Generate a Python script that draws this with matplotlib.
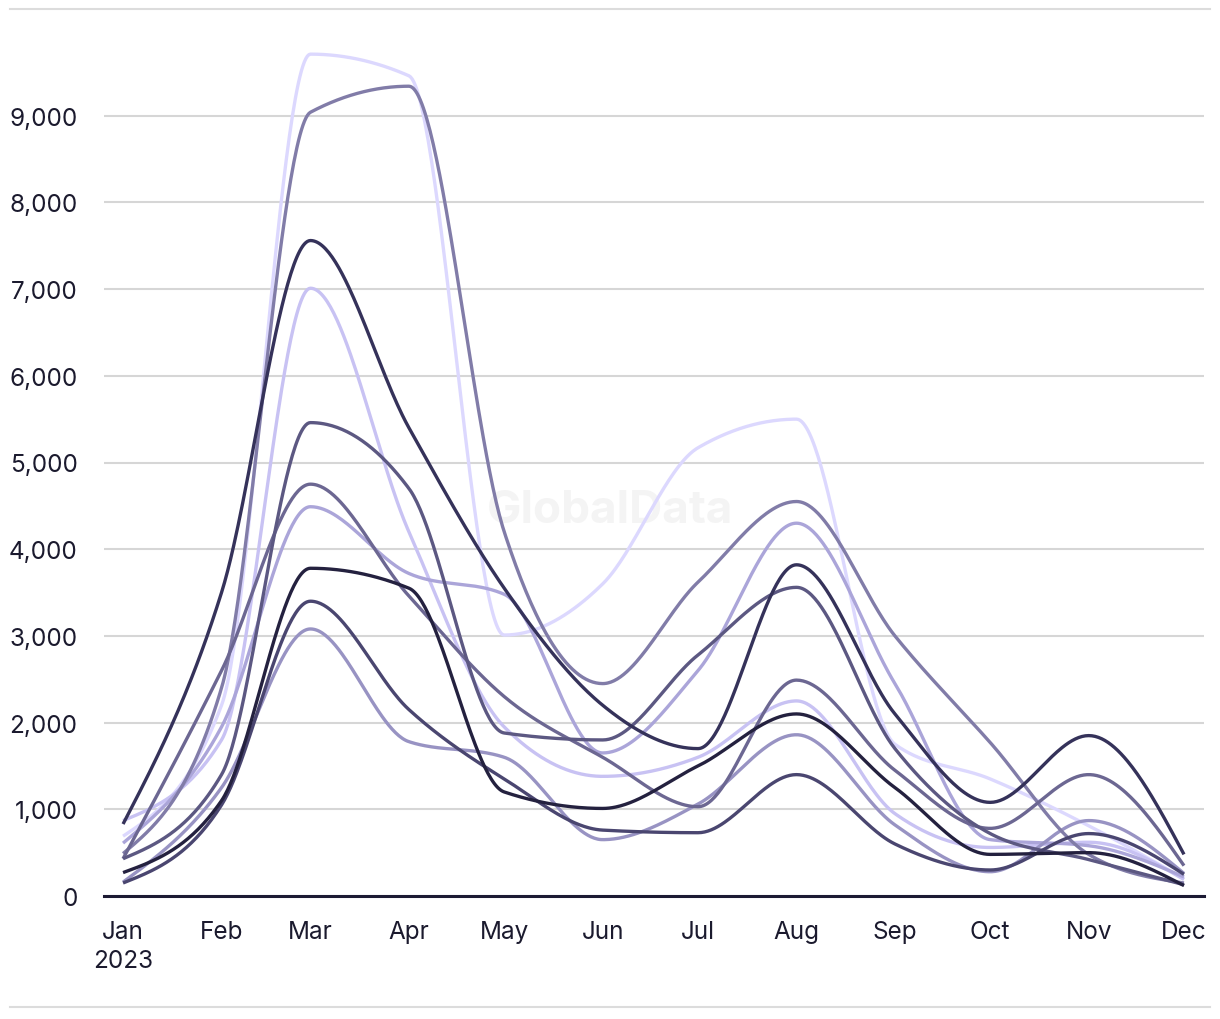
import numpy as np
import matplotlib
matplotlib.use('Agg')
import matplotlib.pyplot as plt
import matplotlib.dates as mdates
from matplotlib.lines import Line2D
from matplotlib.ticker import FuncFormatter

plt.rcParams['font.family'] = ['Inter', 'DejaVu Sans']

months = ['Jan', 'Feb', 'Mar', 'Apr', 'May', 'Jun',
          'Jul', 'Aug', 'Sep', 'Oct', 'Nov', 'Dec']
month_starts = np.arange('2023-01', '2024-01', dtype='datetime64[M]')

# one list per series, Jan..Dec
series_1 = [690, 2200, 9710, 9460, 3010, 3600, 5170, 5500, 1750, 1350, 810, 200]
series_2 = [870, 1800, 7010, 4200, 1950, 1380, 1600, 2250, 950, 560, 620, 190]
series_3 = [610, 1950, 4490, 3720, 3480, 1650, 2600, 4300, 2450, 650, 580, 220]
series_4 = [160, 1250, 3080, 1780, 1600, 650, 1060, 1860, 820, 280, 870, 260]
series_5 = [490, 2400, 9040, 9340, 4200, 2450, 3620, 4550, 3000, 1770, 480, 150]
series_6 = [430, 2600, 4750, 3460, 2300, 1600, 1030, 2490, 1450, 780, 1400, 350]
series_7 = [430, 1400, 5460, 4700, 1880, 1800, 2780, 3560, 1700, 720, 420, 130]
series_8 = [150, 1050, 3400, 2150, 1350, 760, 730, 1400, 600, 300, 720, 250]
series_9 = [830, 3500, 7560, 5400, 3550, 2200, 1700, 3820, 2100, 1080, 1850, 480]
series_10 = [270, 1100, 3780, 3550, 1200, 1010, 1500, 2100, 1250, 480, 500, 120]

all_series = [series_1, series_2, series_3, series_4, series_5,
              series_6, series_7, series_8, series_9, series_10]
colors = ['#dcd8fe', '#c8c2f3', '#aba5d9', '#9893c3', '#817ca8',
          '#6c6792', '#5c5882', '#4a4670', '#35325a', '#24213f']


def monotone_x(x, y, steps=60):
    # d3-style monotone cubic interpolation
    x = np.asarray(x, float)
    y = np.asarray(y, float)
    h = np.diff(x)
    s = np.diff(y) / h
    m = np.zeros_like(y)
    for i in range(1, len(x) - 1):
        p = (s[i - 1] * h[i] + s[i] * h[i - 1]) / (h[i - 1] + h[i])
        m[i] = (np.sign(s[i - 1]) + np.sign(s[i])) * min(abs(s[i - 1]), abs(s[i]), 0.5 * abs(p))
    m[0] = (3 * s[0] - m[1]) / 2
    m[-1] = (3 * s[-1] - m[-2]) / 2
    xs, ys = [], []
    for i in range(len(x) - 1):
        t = np.linspace(0, 1, steps)
        h00 = 2 * t**3 - 3 * t**2 + 1
        h10 = t**3 - 2 * t**2 + t
        h01 = -2 * t**3 + 3 * t**2
        h11 = t**3 - t**2
        xs.append(x[i] + t * h[i])
        ys.append(h00 * y[i] + h10 * h[i] * m[i] + h01 * y[i + 1] + h11 * h[i] * m[i + 1])
    return np.concatenate(xs), np.concatenate(ys)


x_num = mdates.date2num(month_starts.astype('datetime64[D]'))

fig = plt.figure(figsize=(12.2, 10.2), dpi=100)
ax = fig.add_axes([104 / 1220, 123 / 1020, 1100 / 1220, 867 / 1020])

for vals, col in zip(all_series, colors):
    cx, cy = monotone_x(x_num, vals)
    ax.plot(cx, cy, color=col, lw=2.4, solid_capstyle='butt', zorder=3)

ax.text(0.46, 0.445, 'GlobalData', transform=ax.transAxes, ha='center', va='center',
        fontsize=33, fontweight='bold', color='#f4f4f4', zorder=1)

ax.set_ylim(0, 10000)
ax.set_xlim(x_num[0] - 6, x_num[-1] + 6.3)
ax.set_yticks(range(0, 10000, 1000))
ax.yaxis.set_major_formatter(FuncFormatter(lambda v, p: f'{int(v):,}'))
ax.set_xticks(x_num)
ax.set_xticklabels(['Jan\n2023'] + months[1:])

ax.grid(axis='y', color='#d6d6d6', lw=1.5, zorder=0)
ax.set_axisbelow(True)
for side in ['top', 'right', 'left']:
    ax.spines[side].set_visible(False)
ax.spines['bottom'].set_color('#1c1a33')
ax.spines['bottom'].set_linewidth(2.2)
ax.spines['bottom'].set_zorder(4)
ax.tick_params(axis='both', length=0, labelsize=17.5, labelcolor='#1b1a2e')
ax.tick_params(axis='y', pad=19)
ax.tick_params(axis='x', pad=17)
for lab in ax.get_xticklabels():
    lab.set_linespacing(1.35)

fig.add_artist(Line2D([10 / 1220, 1210 / 1220], [1 - 10 / 1020] * 2,
                      transform=fig.transFigure, color='#dcdcdc', lw=1.5))
fig.add_artist(Line2D([10 / 1220, 1210 / 1220], [1 - 1008 / 1020] * 2,
                      transform=fig.transFigure, color='#dcdcdc', lw=1.5))

fig.savefig('out.png', dpi=100, facecolor='white')
